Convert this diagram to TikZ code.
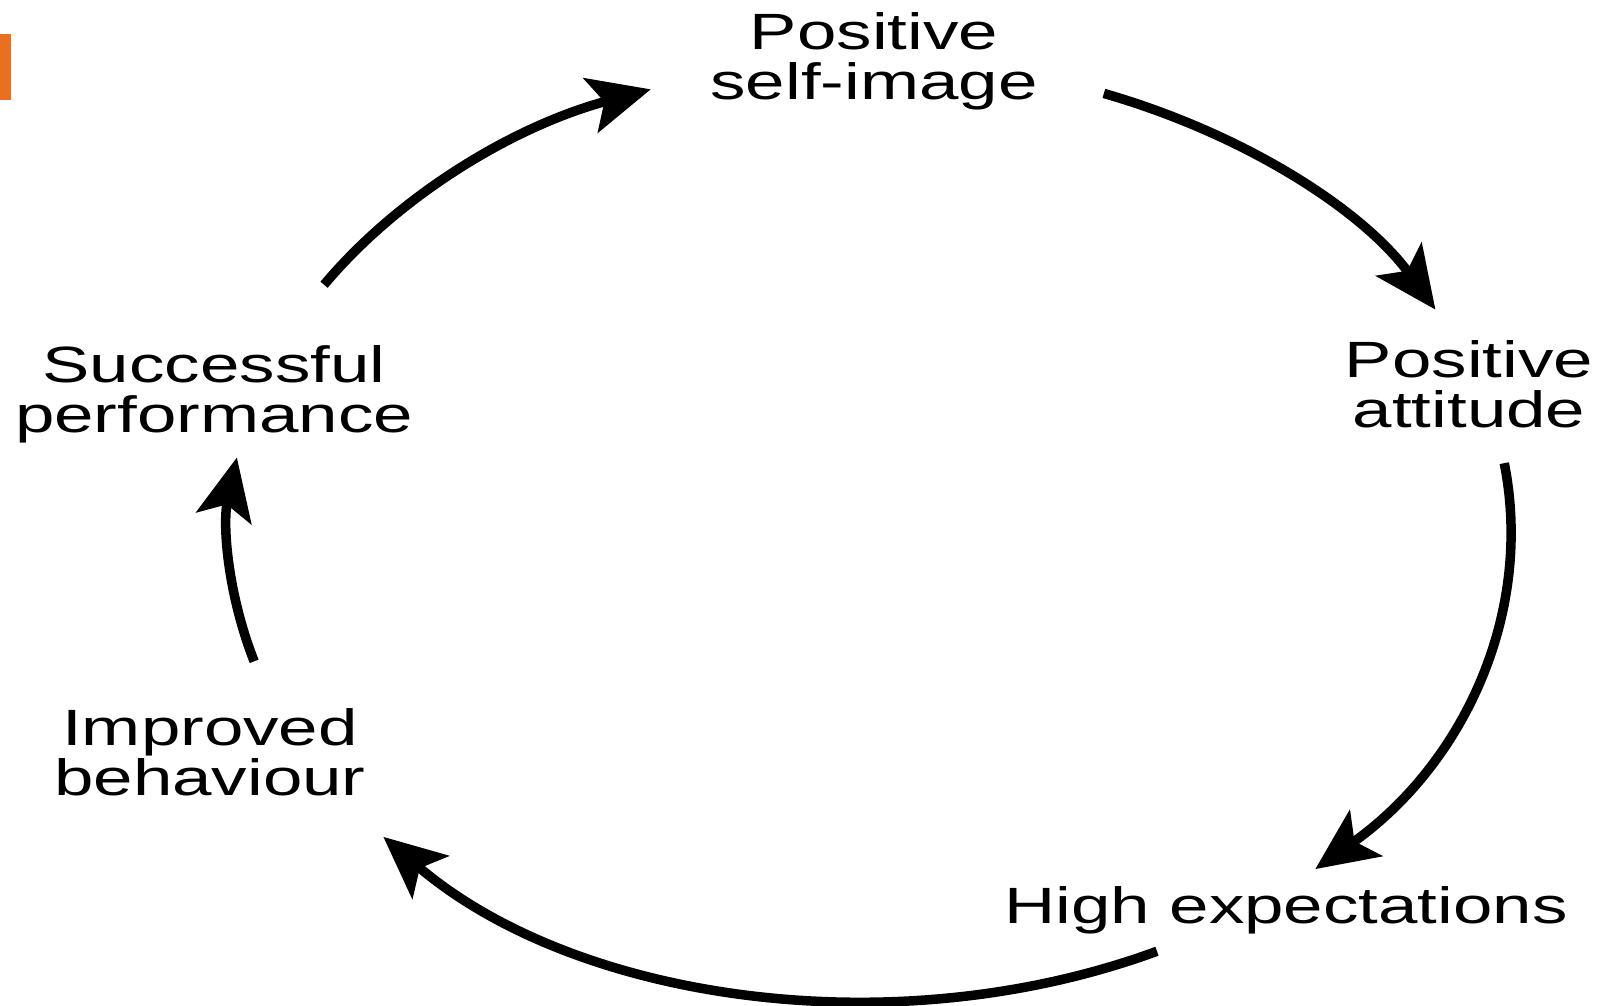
\documentclass[tikz,border=0pt]{standalone}
\usepackage{fontspec}
\setmainfont{Liberation Sans}[FakeStretch=1.39]
\usetikzlibrary{arrows.meta}
\definecolor{markorange}{RGB}{232,112,32}
\newcommand\lnstrut{\rule[-12pt]{0pt}{50pt}}
\begin{document}
\begin{tikzpicture}[x=1pt,y=-1pt,
  lbl/.style={inner sep=0pt, align=center, font=\fontsize{51}{50}\selectfont},
  cyc/.style={line width=9.5pt, -{Stealth[length=62pt,width=56pt,inset=14pt]}}]
\useasboundingbox (0,0) rectangle (1612,1006);
\fill[markorange] (0,34) rectangle (11,100);
% labels
\node[lbl] (self) at (874,62) {\lnstrut Positive\\\lnstrut self-image};
\node[lbl] (att) at (1469,389) {\lnstrut Positive\\\lnstrut attitude};
\node[lbl] (high) at (1286,910) {\lnstrut High expectations};
\node[lbl] (impr) at (210,757) {\lnstrut Improved\\\lnstrut behaviour};
\node[lbl] (succ) at (214,394) {\lnstrut Successful\\\lnstrut performance};
% ellipse: center (870,531), rx 641, ry 470 (y down in picture units)
\coordinate (c1) at ({870+641*cos(148.4)},{531-470*sin(148.4)});
\coordinate (c2) at ({870+641*cos(68.6)},{531-470*sin(68.6)});
\coordinate (c3) at ({870+641*cos(8.3)},{531-470*sin(8.3)});
\coordinate (c4) at ({870+641*cos(-63.4)},{531-470*sin(-63.4)});
\coordinate (c5) at ({870+641*cos(196.1)},{531-470*sin(196.1)});
\draw[cyc] (c1) arc[start angle=148.4, end angle=110, x radius=641pt, y radius=470pt];
\draw[cyc] (c2) arc[start angle=68.6, end angle=28.1, x radius=641pt, y radius=470pt];
\draw[cyc] (c3) arc[start angle=8.3, end angle=-46, x radius=641pt, y radius=470pt];
\draw[cyc] (c4) arc[start angle=-63.4, end angle=-139.4, x radius=641pt, y radius=470pt];
\draw[cyc] (c5) arc[start angle=196.1, end angle=171, x radius=641pt, y radius=470pt];
\end{tikzpicture}
\end{document}
